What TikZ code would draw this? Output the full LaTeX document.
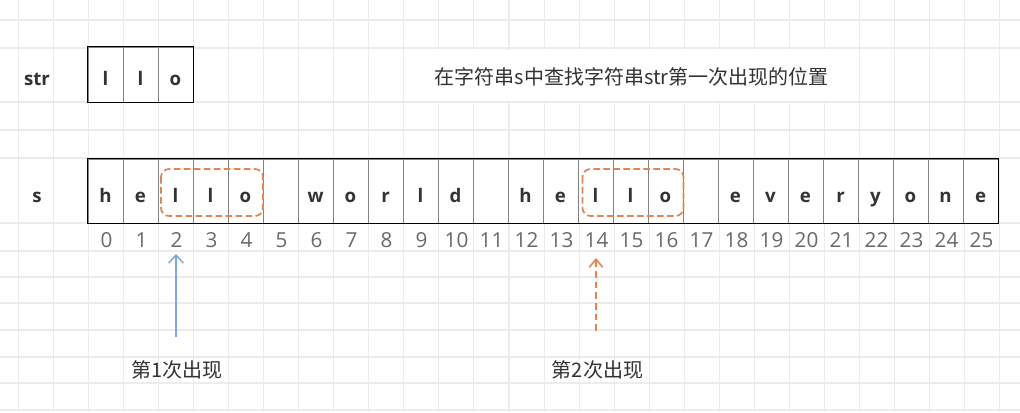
\documentclass[tikz,border=0pt]{standalone}
\usepackage{fontspec}
\setmainfont{Open Sans}
\newfontfamily\cjk{Noto Sans CJK SC}
\usetikzlibrary{arrows.meta}
\definecolor{gridc}{RGB}{236,236,236}
\definecolor{txt}{RGB}{51,51,51}
\definecolor{idx}{RGB}{105,105,105}
\definecolor{divc}{RGB}{130,130,130}
\definecolor{org}{RGB}{228,132,80}
\definecolor{blu}{RGB}{126,166,224}
\tikzset{
  cellbox/.style={draw=divc, fill=white, line width=0.6pt, minimum width=26.25pt, inner sep=0pt},
  srow/.style={cellbox, minimum height=48pt},
  trow/.style={cellbox, minimum height=41.25pt},
  outer/.style={draw=black, line width=1.1pt},
  letter/.style={anchor=base, inner sep=0pt, text=txt, font=\fontsize{14}{15}\selectfont\bfseries},
  idxlab/.style={anchor=base, inner sep=0pt, text=idx, font=\fontsize{15.5}{16}\selectfont},
  cjklab/.style={anchor=base, inner sep=0pt, text=txt, font=\cjk\fontsize{15}{16}\selectfont},
  hilite/.style={draw=org, line width=1.3pt, dash pattern=on 5pt off 2.5pt, rounded corners=6pt},
  arrowblue/.style={draw=blu, line width=1.1pt, -{Straight Barb[length=6pt,width=11pt]}},
  arroworg/.style={draw=org, line width=1.2pt, dash pattern=on 5pt off 3pt, -{Straight Barb[length=6pt,width=10pt]}}
}
\begin{document}
\begin{tikzpicture}[x=0.75pt,y=-0.75pt]
\useasboundingbox (0,0) rectangle (1020,412);
\fill[white] (0,0) rectangle (1020,412);
% grid
\foreach \k in {0,...,28}
  \draw[gridc, line width=0.8pt] ({18.3+35.05*\k},0) -- ({18.3+35.05*\k},412);
\foreach \yy in {20,48,102,130,158,223,251,277,303,330,357,383,410}
  \draw[gridc, line width=0.8pt] (0,\yy) -- (1020,\yy);
% title background
\fill[white] (405,49.5) rectangle (858,101);

% str row
\node[letter] (strlab) at (37,85) {str};
\foreach \c [count=\i from 0] in {l,l,o} {
  \node[trow] (t\i) at ({105.5+35*\i},74.5) {};
  \node[letter] (tl\i) at ({105.5+35*\i},85) {\c};
}
\draw[outer] (t0.north west) rectangle (t2.south east);

% title
\node[cjklab] (title) at (631.5,84) {在字符串s中查找字符串str第一次出现的位置};

% s row
\node[letter] (slab) at (37,202) {s};
\foreach \c [count=\i from 0] in {h,e,l,l,o,{},w,o,r,l,d,{},h,e,l,l,o,{},e,v,e,r,y,o,n,e} {
  \node[srow] (s\i) at ({105.5+35*\i},191) {};
  \node[letter] (sl\i) at ({105.5+35*\i},202) {\c};
  \node[idxlab] (i\i) at ({106.5+35*\i},247) {\i};
}
\draw[outer] (s0.north west) rectangle (s25.south east);

% highlights
\draw[hilite] (161,169) rectangle (263,216);
\draw[hilite] (582.5,169) rectangle (683.5,216);

% arrows
\coordinate (a1s) at (176,337);
\coordinate (a1e) at (176,254);
\draw[arrowblue] (a1s) -- (a1e);
\coordinate (a2s) at (596,331);
\coordinate (a2e) at (596,258);
\draw[arroworg] (a2s) -- (a2e);

% labels
\node[cjklab] (lab1) at (177,377) {第1次出现};
\node[cjklab] (lab2) at (597.5,377) {第2次出现};
\end{tikzpicture}
\end{document}
